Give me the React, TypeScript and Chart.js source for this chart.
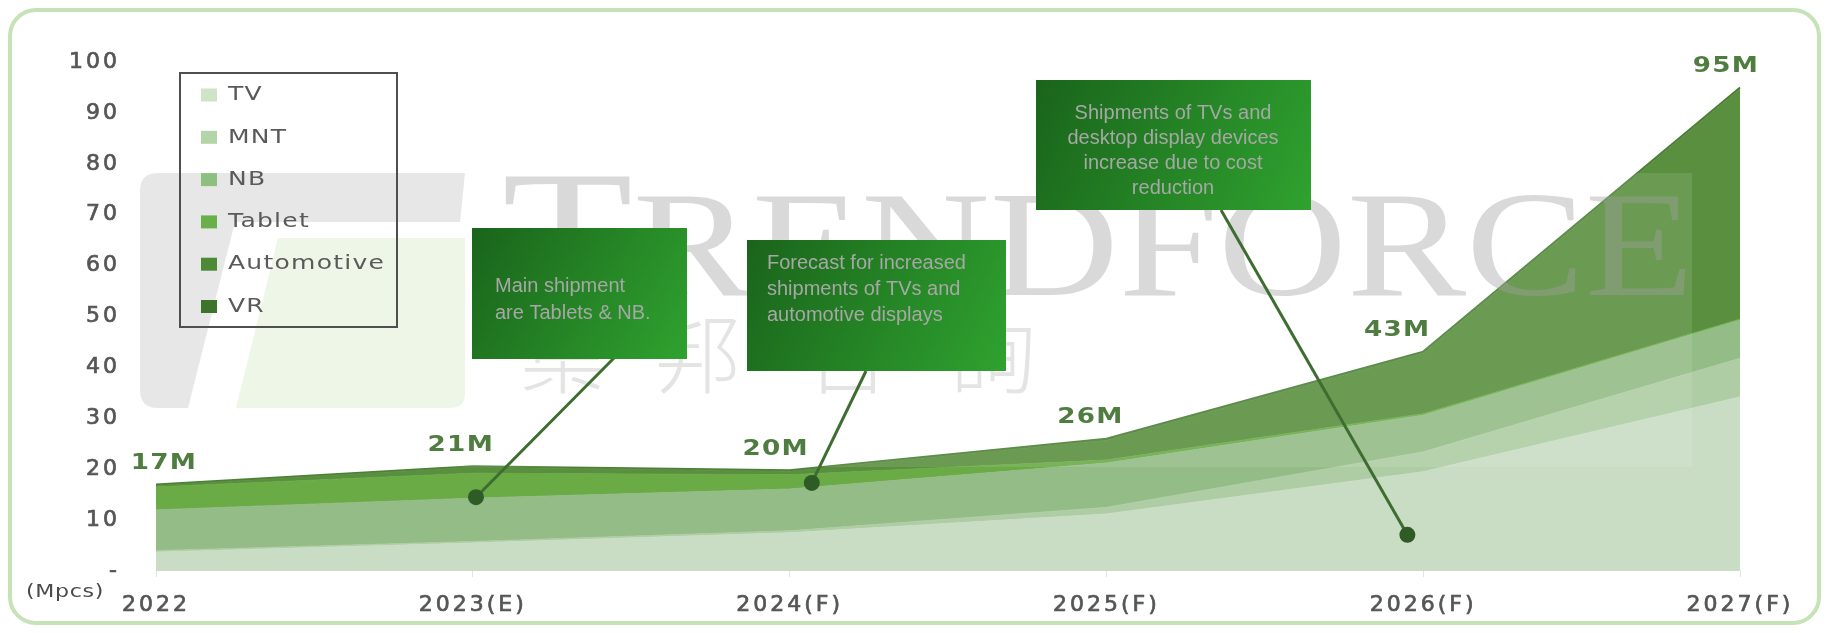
import React, { useEffect, useRef } from 'react';
import { Chart, registerables } from 'chart.js';

Chart.register(...registerables);

// ---------- data ----------
const categories = ['2022', '2023(E)', '2024(F)', '2025(F)', '2026(F)', '2027(F)'];
const seriesNames = ['TV', 'MNT', 'NB', 'Tablet', 'Automotive', 'VR'];
const tvValues = [3.7, 5.5, 7.5, 11.2, 19.5, 34.2];
const mntValues = [0.3, 0.3, 0.4, 1.3, 3.9, 7.6];
const nbValues = [8.0, 8.5, 8.2, 8.7, 7.2, 7.5];
const tabletValues = [4.5, 4.9, 2.8, 0.6, 0.3, 0.2];
const automotiveValues = [0.3, 1.2, 0.7, 3.9, 11.9, 45.2];
const vrValues = [0.2, 0.2, 0.2, 0.3, 0.3, 0.3];
const totalLabels = ['17M', '21M', '20M', '26M', '43M', '95M'];
const yTickLabels = ['-', '10', '20', '30', '40', '50', '60', '70', '80', '90', '100'];
const unitLabel = '(Mpcs)';
const note1Lines = ['Main shipment', 'are Tablets & NB.'];
const note2Lines = ['Forecast for increased', 'shipments of TVs and', 'automotive displays'];
const note3Lines = ['Shipments of TVs and', 'desktop display devices', 'increase due to cost', 'reduction'];
const noteAnchorX = [1.01, 2.07, 3.95];
const noteAnchorY = [14.5, 17.3, 7.1];
const watermarkLatin = 'TRENDFORCE';
const watermarkCJK = ['集', '邦', '咨', '詢'];

// ---------- styles ----------
const seriesValues = [tvValues, mntValues, nbValues, tabletValues, automotiveValues, vrValues];
const seriesColors = ['#c9ddc4', '#aecda4', '#93bc86', '#6aab46', '#5b8f40', '#4a7f35'];
const legendColors = ['#cfe4c7', '#b4d5a9', '#8dbf7f', '#69b04b', '#4c8a37', '#3c742a'];
const TICK_FONT = 'DejaVu Sans';

function stretchText(ctx: any, text: string, x: number, y: number, sx: number, align: string) {
  ctx.save();
  ctx.translate(x, y);
  ctx.scale(sx, 1);
  ctx.textAlign = align;
  ctx.fillText(text, 0, 0);
  ctx.restore();
}

const overlayPlugin = {
  id: 'overlay',
  beforeDraw(chart: any) {
    (chart.ctx as any).letterSpacing = '3px';
  },
  afterDatasetsDraw(chart: any) {
    const ctx = chart.ctx as any;
    const xs = chart.scales.x;
    const ys = chart.scales.y;

    // --- watermark ---
    ctx.save();
    ctx.letterSpacing = '0px';
    ctx.fillStyle = 'rgba(255,255,255,0.1)';
    ctx.fillRect(132, 165, 1552, 294);

    ctx.fillStyle = 'rgba(195,195,195,0.4)';
    ctx.beginPath();
    ctx.moveTo(150, 165);
    ctx.lineTo(457, 165);
    ctx.lineTo(452, 214);
    ctx.lineTo(227, 214);
    ctx.lineTo(180, 400);
    ctx.lineTo(150, 400);
    ctx.quadraticCurveTo(132, 400, 132, 382);
    ctx.lineTo(132, 183);
    ctx.quadraticCurveTo(132, 165, 150, 165);
    ctx.closePath();
    ctx.fill();

    ctx.fillStyle = 'rgba(205,228,185,0.35)';
    ctx.beginPath();
    ctx.moveTo(270, 230);
    ctx.lineTo(457, 230);
    ctx.lineTo(457, 385);
    ctx.quadraticCurveTo(457, 400, 442, 400);
    ctx.lineTo(228, 400);
    ctx.closePath();
    ctx.fill();

    ctx.fillStyle = 'rgba(160,160,160,0.4)';
    ctx.textBaseline = 'alphabetic';
    ctx.textAlign = 'left';
    ctx.translate(494, 287);
    ctx.scale(1.19, 1);
    ctx.font = '180px "Liberation Serif"';
    ctx.fillText(watermarkLatin[0], 0, 0);
    const tw = ctx.measureText(watermarkLatin[0]).width;
    ctx.font = '150px "Liberation Serif"';
    ctx.fillText(watermarkLatin.slice(1), tw, 0);
    ctx.restore();

    ctx.save();
    ctx.letterSpacing = '0px';
    ctx.fillStyle = 'rgba(170,170,170,0.32)';
    ctx.font = '300 86px "Noto Sans CJK TC"';
    ctx.textAlign = 'center';
    ctx.textBaseline = 'middle';
    const cjkX = [555, 690, 840, 985];
    watermarkCJK.forEach((c, i) => ctx.fillText(c, cjkX[i], 346));
    ctx.restore();

    // --- total labels ---
    ctx.save();
    ctx.letterSpacing = '1px';
    ctx.font = 'bold 21px "DejaVu Sans"';
    ctx.fillStyle = '#4f7d40';
    ctx.textBaseline = 'middle';
    const nudge = [8, -12, -14, -16, -26, -14];
    categories.forEach((_, i) => {
      const total = seriesValues.reduce((s, arr) => s + arr[i], 0);
      const x = xs.getPixelForValue(i) + nudge[i];
      const y = ys.getPixelForValue(total) - 21;
      stretchText(ctx, totalLabels[i], x, y, 1.25, 'center');
    });
    ctx.restore();

    // --- annotation connectors ---
    const starts = [[606, 350], [858, 363], [1213, 202]];
    ctx.save();
    ctx.strokeStyle = '#3d6d30';
    ctx.lineWidth = 3;
    ctx.fillStyle = '#2f5c26';
    noteAnchorX.forEach((ax, i) => {
      const px = xs.getPixelForValue(ax);
      const py = ys.getPixelForValue(noteAnchorY[i]);
      ctx.beginPath();
      ctx.moveTo(starts[i][0], starts[i][1]);
      ctx.lineTo(px, py);
      ctx.stroke();
      ctx.beginPath();
      ctx.arc(px, py, 8, 0, Math.PI * 2);
      ctx.fill();
    });
    ctx.restore();

    // --- annotation boxes ---
    const boxes = [
      { x: 464, y: 220, w: 215, h: 131, lines: note1Lines, align: 'left', tx: 487, ty: 278, lh: 27 },
      { x: 739, y: 232, w: 259, h: 131, lines: note2Lines, align: 'left', tx: 759, ty: 255, lh: 26 },
      { x: 1028, y: 72, w: 275, h: 130, lines: note3Lines, align: 'center', tx: 1165, ty: 105, lh: 25 },
    ];
    boxes.forEach((b) => {
      ctx.save();
      ctx.letterSpacing = '0px';
      const g = ctx.createLinearGradient(b.x, b.y, b.x + b.w, b.y + b.h);
      g.addColorStop(0, '#1a641b');
      g.addColorStop(1, '#2fa22f');
      ctx.fillStyle = g;
      ctx.fillRect(b.x, b.y, b.w, b.h);
      ctx.fillStyle = '#a6a8a6';
      ctx.font = '20px "Liberation Sans"';
      ctx.textAlign = b.align;
      ctx.textBaseline = 'middle';
      b.lines.forEach((t: string, i: number) => ctx.fillText(t, b.tx, b.ty + i * b.lh));
      ctx.restore();
    });

    // --- legend ---
    ctx.save();
    ctx.strokeStyle = '#4f4f4f';
    ctx.lineWidth = 2;
    ctx.strokeRect(172, 65, 217, 254);
    ctx.letterSpacing = '1px';
    ctx.font = '20px "DejaVu Sans"';
    ctx.textBaseline = 'middle';
    seriesNames.forEach((name, i) => {
      const cy = 87 + i * 42.3;
      ctx.fillStyle = legendColors[i];
      ctx.fillRect(193, cy - 6.5, 16, 13);
      ctx.fillStyle = '#5a5a5a';
      stretchText(ctx, name, 220, cy, 1.25, 'left');
    });
    ctx.restore();

    // --- unit label ---
    ctx.save();
    ctx.letterSpacing = '0.5px';
    ctx.font = '17px "DejaVu Sans"';
    ctx.fillStyle = '#4a4a4a';
    ctx.textBaseline = 'middle';
    stretchText(ctx, unitLabel, 18, 585, 1.3, 'left');
    ctx.restore();
  },
};

export default function App() {
  const canvasRef = useRef<HTMLCanvasElement | null>(null);

  useEffect(() => {
    if (!canvasRef.current) return;
    const datasets = seriesNames.map((name, i) => ({
      label: name,
      data: seriesValues[i],
      backgroundColor: seriesColors[i],
      borderColor: i === seriesNames.length - 1 ? '#4b7f37' : seriesColors[i],
      borderWidth: i === seriesNames.length - 1 ? 2 : 1,
      fill: i === 0 ? 'origin' : '-1',
      pointRadius: 0,
      tension: 0,
    }));
    const chart = new Chart(canvasRef.current, {
      type: 'line',
      data: { labels: categories, datasets },
      options: {
        responsive: false,
        animation: false,
        layout: { padding: { left: 0, right: 81, top: 54, bottom: 0 } },
        plugins: { legend: { display: false }, tooltip: { enabled: false } },
        scales: {
          x: {
            offset: false,
            grid: { display: true, drawOnChartArea: false, color: '#e3e3e3', tickLength: 6 },
            border: { display: false },
            ticks: {
              font: { family: TICK_FONT, size: 22 },
              color: '#555555',
              textStrokeColor: '#555555',
              textStrokeWidth: 0.7,
              padding: 15,
              maxRotation: 0,
              autoSkip: false,
            },
            afterFit: (s: any) => {
              s.height = 54;
            },
          },
          y: {
            stacked: true,
            min: 0,
            max: 100,
            grid: { display: false, drawTicks: false },
            border: { display: false },
            ticks: {
              stepSize: 10,
              font: { family: TICK_FONT, size: 22 },
              color: '#555555',
              textStrokeColor: '#555555',
              textStrokeWidth: 0.7,
              padding: 36,
              callback: (_v: any, i: number) => yTickLabels[i],
            },
            afterFit: (s: any) => {
              s.width = 148;
            },
          },
        },
      },
      plugins: [overlayPlugin],
    } as any);
    return () => chart.destroy();
  }, []);

  return (
    <div style={{ position: 'relative', width: 1813, height: 617 }}>
      <canvas
        ref={canvasRef}
        width={1813}
        height={617}
        style={{ position: 'absolute', left: 0, top: 0, width: 1813, height: 617 }}
      />
      <div
        style={{
          position: 'absolute',
          inset: 0,
          border: '4px solid #c6e2b7',
          borderRadius: 28,
          boxSizing: 'border-box',
          pointerEvents: 'none',
        }}
      />
    </div>
  );
}
